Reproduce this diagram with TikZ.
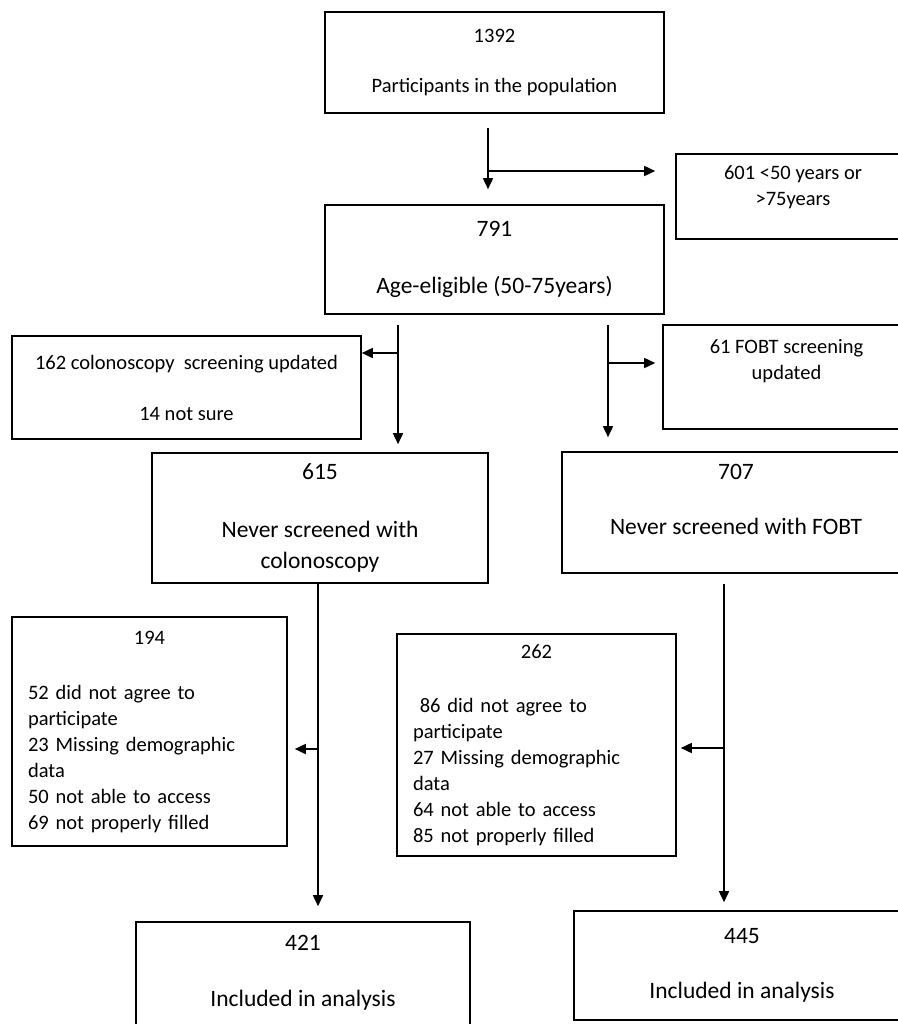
\documentclass[tikz,border=0pt]{standalone}
\usepackage{fontspec}
\setmainfont{Carlito}
\usetikzlibrary{arrows.meta}
\newcommand{\smalltxt}{\fontsize{20.5}{26}\selectfont}
\newcommand{\bigtxt}{\fontsize{23.5}{31}\selectfont}
\begin{document}
\begin{tikzpicture}[x=1pt,y=-1pt,
        flowbox/.style={draw,line width=1.6pt,align=center,inner sep=0pt},
        listbox/.style={draw,line width=1.6pt,align=left,inner xsep=16pt,inner ysep=0pt,font=\smalltxt},
        arr/.style={line width=1.6pt,-{Triangle[length=11pt,width=10pt]}}]
        \useasboundingbox (0,0) rectangle (897,1024);
        %% population and age
        \node[flowbox,font=\smalltxt,minimum width=339pt,minimum height=101pt] (pop) at (494.5,62.5) {1392\\[24pt]Participants in the population};
        \node[flowbox,font=\smalltxt,minimum width=234pt,minimum height=85pt,text depth=21pt] (excl) at (793,196.5) {601 <50 years or\\>75years};
        \node[flowbox,font=\bigtxt,minimum width=339pt,minimum height=109pt] (elig) at (494.5,259.5) {791\\[26pt]Age-eligible (50-75years)};
        %% screening status
        \node[flowbox,font=\smalltxt,minimum width=349pt,minimum height=103pt] (colupd) at (186.5,387.5) {162 colonoscopy\ \ screening updated\\[25pt]14 not\ sure};
        \node[flowbox,font=\smalltxt,minimum width=247pt,minimum height=104pt,text depth=35pt] (fobtupd) at (786.5,377) {61 FOBT screening\\updated};
        \node[flowbox,font=\bigtxt,minimum width=336pt,minimum height=130pt] (nevcol) at (320,518) {615\\[27pt]Never screened with\\colonoscopy};
        \node[flowbox,font=\bigtxt,minimum width=348pt,minimum height=121pt,text depth=27pt] (nevfobt) at (736,512.5) {707\\[24pt]Never screened with FOBT};
        %% exclusions
        \node[listbox,text width=243pt,minimum height=229pt] (colexcl) at (149.5,731.5) {\makebox[243pt]{194}\\[29pt]52 did not\ agree to\\participate\\23 Missing demographic\\data\\50 not\ able to access\\69 not\ properly filled};
        \node[listbox,text width=247pt,minimum height=222pt] (fobtexcl) at (536.5,745) {\makebox[247pt]{262}\\[28pt]\ 86 did not agree to\\participate\\27 Missing demographic\\data\\64 not\ able to access\\85 not\ properly filled};
        %% analysis
        \node[flowbox,font=\bigtxt,minimum width=334pt,minimum height=118pt,text depth=21pt] (colincl) at (303,981) {421\\[25pt]Included in analysis};
        \node[flowbox,font=\bigtxt,minimum width=336pt,minimum height=109pt] (fobtincl) at (742,965.5) {445\\[24pt]Included in analysis};
        %% arrows
        \coordinate (popdown) at (488,128);
        \coordinate (popsplit) at (488,171);
        \draw[arr,shorten >=15pt] (popdown) -- (popdown |- elig.north);
        \draw[arr,shorten >=20pt] (popsplit) -- (popsplit -| excl.west);
        \coordinate (colsdown) at (398,325);
        \coordinate (colssplit) at (398,353);
        \draw[arr,shorten >=8pt] (colsdown) -- (colsdown |- nevcol.north);
        \draw[arr] (colssplit) -- (colssplit -| colupd.east);
        \coordinate (fobtsdown) at (608,325);
        \coordinate (fobtssplit) at (608,363);
        \draw[arr,shorten >=14pt] (fobtsdown) -- (fobtsdown |- nevfobt.north);
        \draw[arr,shorten >=7pt] (fobtssplit) -- (fobtssplit -| fobtupd.west);
        \coordinate (colsplit) at (318,749);
        \draw[arr,shorten >=15pt] (nevcol.south -| colsplit) -- (colsplit |- colincl.north);
        \draw[arr,shorten >=7pt] (colsplit) -- (colsplit -| colexcl.east);
        \coordinate (fobtdown) at (724,584);
        \coordinate (fobtsplit) at (724,748);
        \draw[arr,shorten >=8pt] (fobtdown) -- (fobtdown |- fobtincl.north);
        \draw[arr,shorten >=4pt] (fobtsplit) -- (fobtsplit -| fobtexcl.east);
    \end{tikzpicture}
\end{document}
